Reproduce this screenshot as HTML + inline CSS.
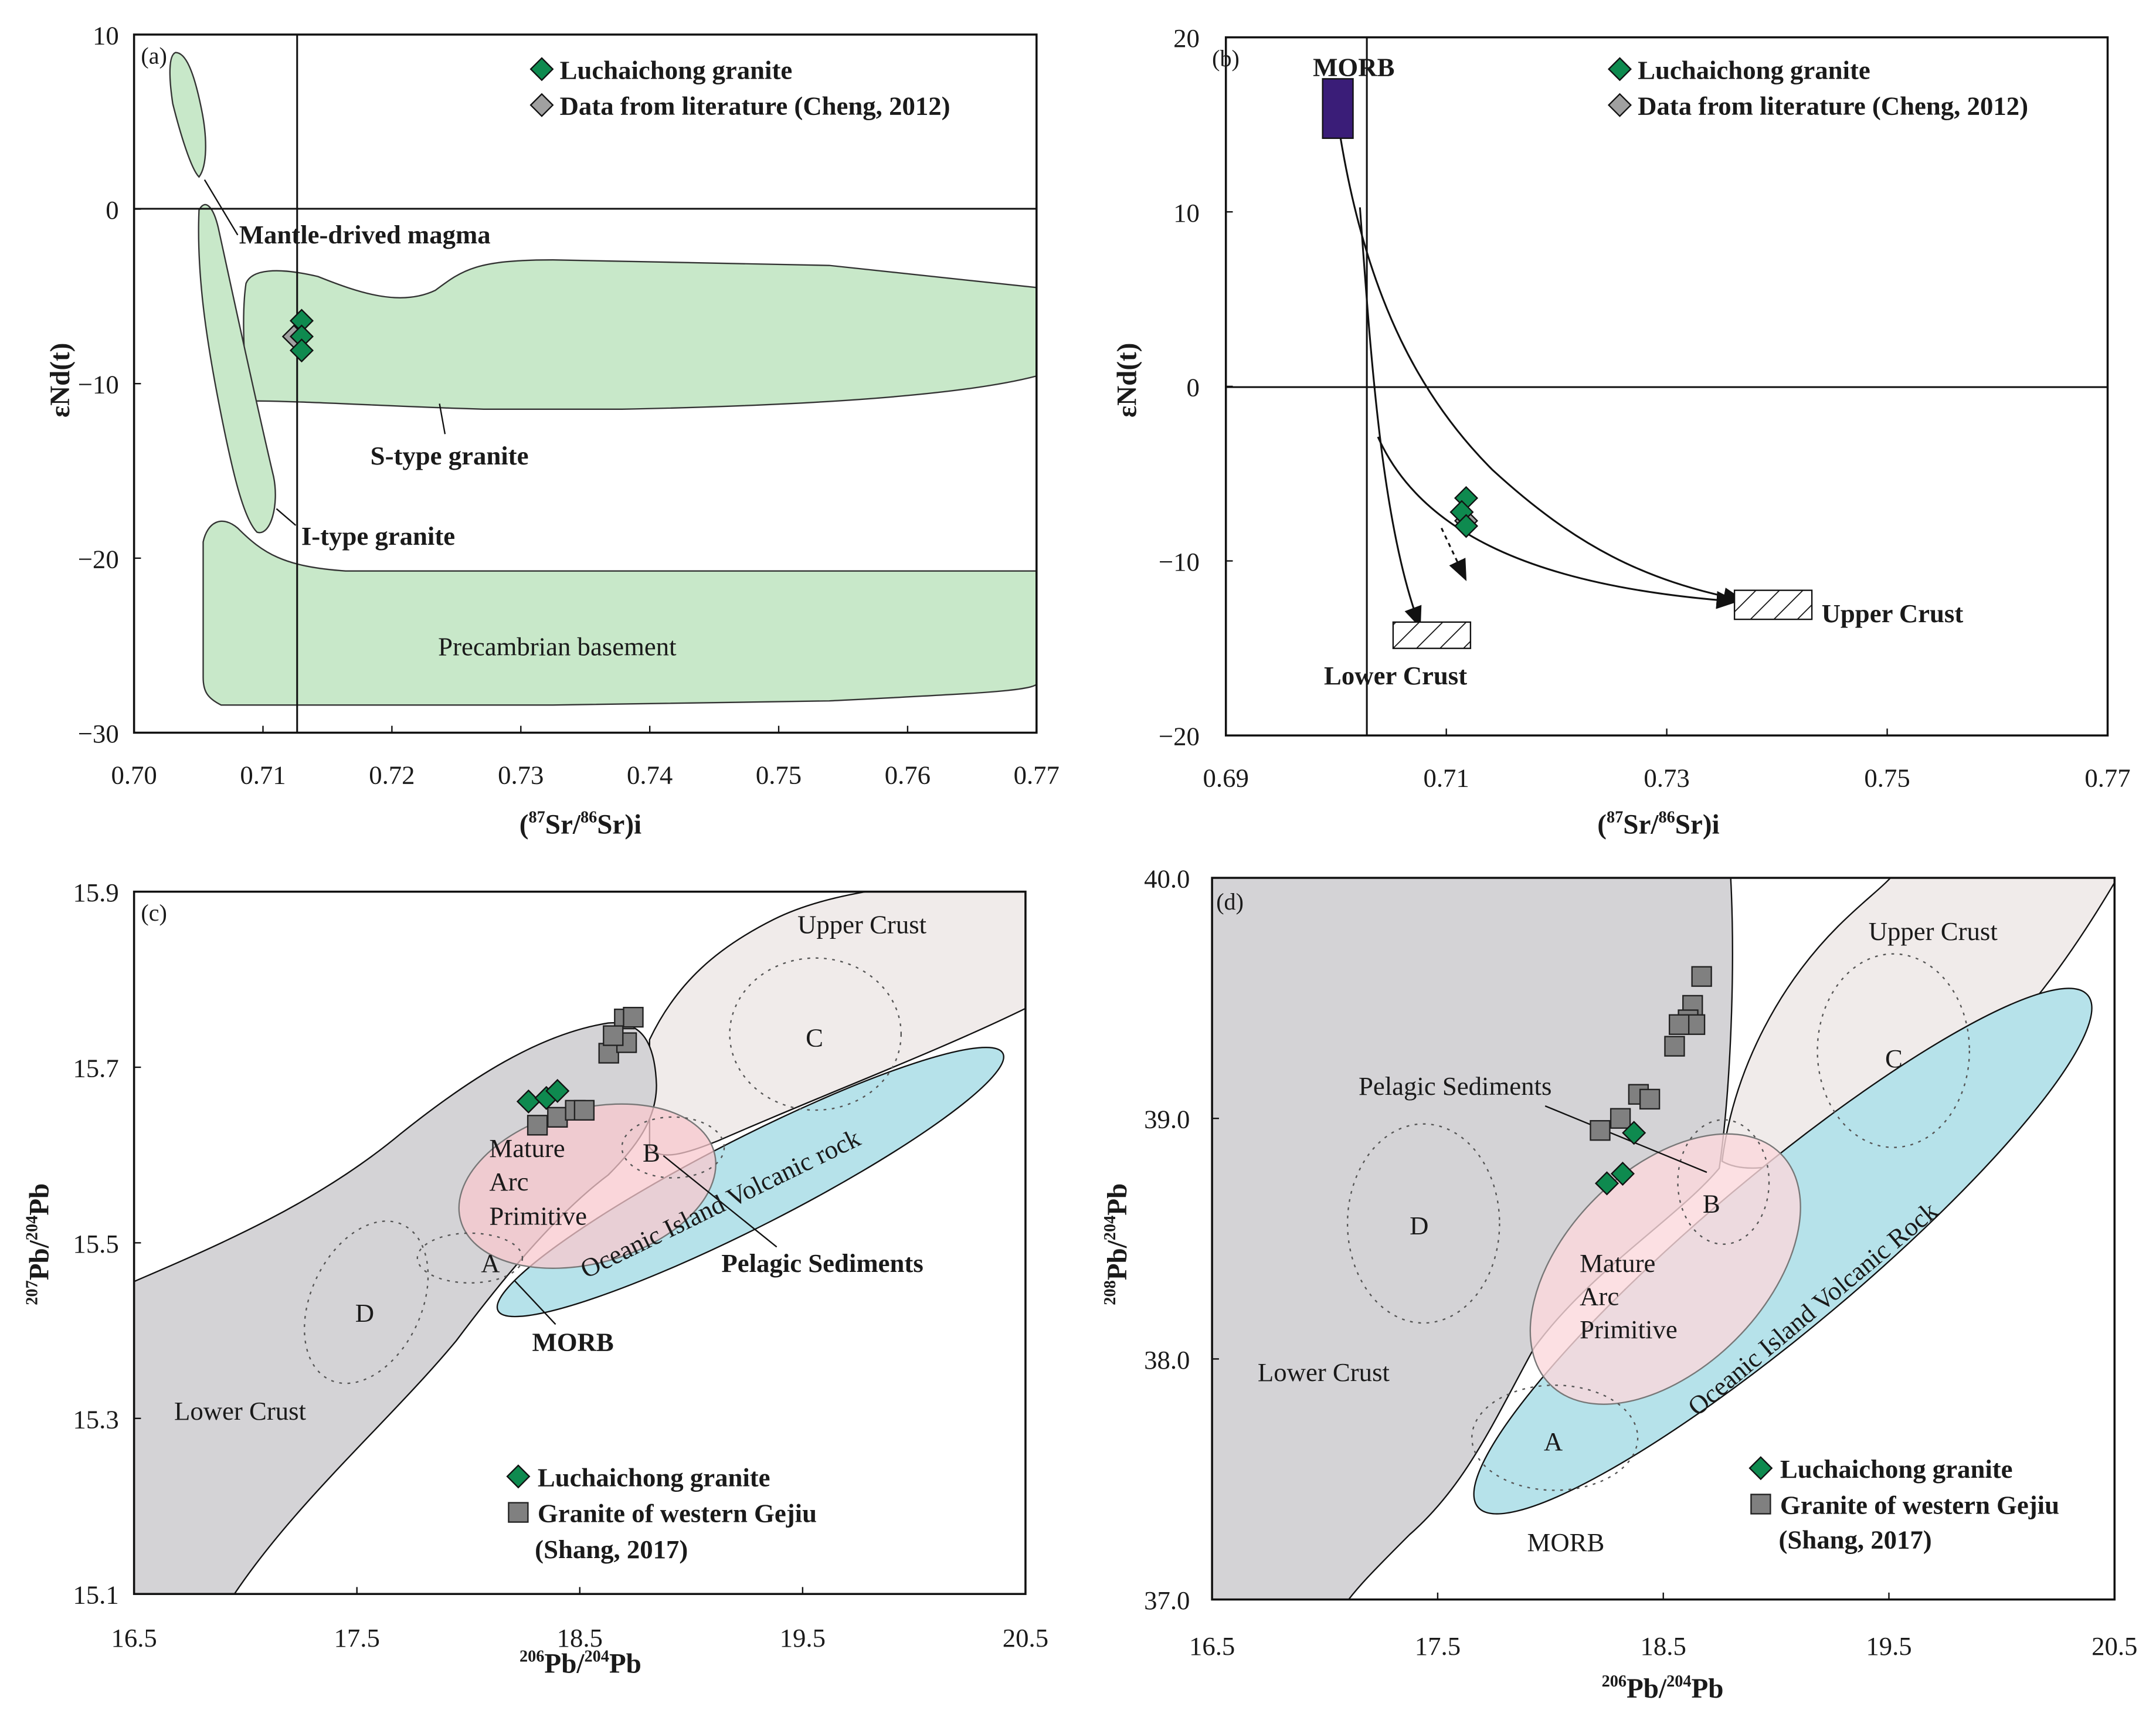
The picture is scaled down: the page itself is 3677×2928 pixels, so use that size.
<!DOCTYPE html>
<html><head><meta charset="utf-8"><style>
html,body{margin:0;padding:0;background:#fff}
svg{display:block;font-family:"Liberation Serif","DejaVu Serif",serif}
svg text{font-family:"Liberation Serif","DejaVu Serif",serif;fill:#1a1a1a}
</style></head><body>
<svg id="fig" xmlns="http://www.w3.org/2000/svg" width="3677" height="2928" viewBox="0 0 1560 1242" preserveAspectRatio="none" font-family="Liberation Serif, serif">
<g id="pa">
 <path d="M127,38 C134,38 140,50 146,80 C150,100 150,120 144,128 C138,122 130,95 125,75 C122,55 122,40 127,38Z" fill="#c8e8c9" stroke="#333" stroke-width="1"/>
 <path d="M178,205 C182,195 200,193 230,200 C260,212 290,222 315,210 C335,195 345,188 400,188 L600,192 L750,208 L750,272 C700,285 600,293 450,296 L350,296 C280,294 220,290 180,290 C176,260 175,225 178,205Z" fill="#c8e8c9" stroke="#333" stroke-width="1"/>
 <path d="M144,152 C148,144 154,148 158,165 C170,220 185,290 198,345 C202,365 196,388 186,385 C176,375 168,340 160,300 C150,250 142,200 144,152Z" fill="#c8e8c9" stroke="#333" stroke-width="1"/>
 <path d="M147,392 C150,378 160,372 172,382 C190,400 205,410 250,413 L750,413 L750,495 C745,500 700,502 600,507 L400,510 L160,510 C150,505 147,500 147,490Z" fill="#c8e8c9" stroke="#333" stroke-width="1"/>
 <rect x="97" y="25" width="653" height="505" fill="none" stroke="#111" stroke-width="1.5"/>
 <line x1="97" y1="151" x2="750" y2="151" stroke="#111" stroke-width="1.3"/>
 <line x1="215" y1="25" x2="215" y2="530" stroke="#111" stroke-width="1.3"/>
 <line x1="172" y1="170" x2="148" y2="130" stroke="#111"/>
 <line x1="318" y1="292" x2="322" y2="314" stroke="#111"/>
 <line x1="200" y1="368" x2="214" y2="380" stroke="#111"/>
 <text x="102" y="46" font-size="17">(a)</text>
 <text x="173" y="176" font-size="19" font-weight="bold">Mantle-drived magma</text>
 <text x="268" y="336" font-size="19" font-weight="bold">S-type granite</text>
 <text x="218" y="394" font-size="19" font-weight="bold">I-type granite</text>
 <text x="317" y="474" font-size="19">Precambrian basement</text>
 <g id="pa-pts"></g>
 <g>
  <path d="M392,42 L400,50 L392,58 L384,50Z" fill="#0e8a4f" stroke="#111"/>
  <text x="405" y="57" font-size="19" font-weight="bold">Luchaichong granite</text>
  <path d="M392,68 L400,76 L392,84 L384,76Z" fill="#a0a0a0" stroke="#111"/>
  <text x="405" y="83" font-size="19" font-weight="bold">Data from literature (Cheng, 2012)</text>
 </g>
 <g id="pa-ax"></g>
 <text x="420" y="603" font-size="20" font-weight="bold" text-anchor="middle">(<tspan font-size="12" dy="-8">87</tspan><tspan dy="8">Sr/</tspan><tspan font-size="12" dy="-8">86</tspan><tspan dy="8">Sr)i</tspan></text>
 <text transform="translate(50,275) rotate(-90)" font-size="20" font-weight="bold" text-anchor="middle">εNd(t)</text>
</g>

<g id="pb">
 <rect x="887" y="27" width="638" height="505" fill="none" stroke="#111" stroke-width="1.5"/>
 <line x1="887" y1="280" x2="1525" y2="280" stroke="#111" stroke-width="1.3"/>
 <line x1="989" y1="27" x2="989" y2="532" stroke="#111" stroke-width="1.3"/>
 <defs><marker id="arr" markerWidth="12" markerHeight="10" refX="10" refY="5" orient="auto"><path d="M0,0 L12,5 L0,10Z" fill="#111"/></marker></defs>
 <path d="M970,100 C990,220 1030,290 1080,340 C1140,395 1190,420 1260,434" fill="none" stroke="#111" stroke-width="1.3" marker-end="url(#arr)"/>
 <path d="M984,150 C992,260 1000,380 1027,452" fill="none" stroke="#111" stroke-width="1.3" marker-end="url(#arr)"/>
 <path d="M997,316 C1030,390 1120,425 1255,435" fill="none" stroke="#111" stroke-width="1.3" marker-end="url(#arr)"/>
 <path d="M1043,382 L1060,418" fill="none" stroke="#111" stroke-width="1.3" stroke-dasharray="3,3" marker-end="url(#arr)"/>
 <defs><pattern id="hatch" width="12" height="12" patternUnits="userSpaceOnUse" patternTransform="rotate(45)"><rect width="12" height="12" fill="#fff"/><line x1="0" y1="0" x2="0" y2="12" stroke="#111" stroke-width="1.5"/></pattern></defs>
 <rect x="1008" y="450" width="56" height="19" fill="url(#hatch)" stroke="#111"/>
 <rect x="1255" y="427" width="56" height="21" fill="url(#hatch)" stroke="#111"/>
 <rect x="957" y="57" width="22" height="43" fill="#3a1d78" stroke="#111"/>
 <text x="950" y="55" font-size="19" font-weight="bold">MORB</text>
 <text x="1318" y="450" font-size="19" font-weight="bold">Upper Crust</text>
 <text x="958" y="495" font-size="19" font-weight="bold">Lower Crust</text>
 <text x="877" y="48" font-size="17">(b)</text>
 <g id="pb-pts"></g>
 <g>
  <path d="M1172,42 L1180,50 L1172,58 L1164,50Z" fill="#0e8a4f" stroke="#111"/>
  <text x="1185" y="57" font-size="19" font-weight="bold">Luchaichong granite</text>
  <path d="M1172,68 L1180,76 L1172,84 L1164,76Z" fill="#a0a0a0" stroke="#111"/>
  <text x="1185" y="83" font-size="19" font-weight="bold">Data from literature (Cheng, 2012)</text>
 </g>
 <g id="pb-ax"></g>
 <text x="1200" y="603" font-size="20" font-weight="bold" text-anchor="middle">(<tspan font-size="12" dy="-8">87</tspan><tspan dy="8">Sr/</tspan><tspan font-size="12" dy="-8">86</tspan><tspan dy="8">Sr)i</tspan></text>
 <text transform="translate(822,275) rotate(-90)" font-size="20" font-weight="bold" text-anchor="middle">εNd(t)</text>
</g>

<g id="pc">
 <defs><clipPath id="clipc"><rect x="97" y="645" width="645" height="508"/></clipPath><clipPath id="clipd"><rect x="877" y="635" width="653" height="522"/></clipPath></defs>
 <g clip-path="url(#clipc)">
  <path d="M470,752 C490,710 520,685 560,665 C610,640 680,640 745,630 L745,728 C680,760 600,790 520,825 C495,835 478,840 470,830Z" fill="#f0ebea" stroke="#111" stroke-width="1"/>
  <path d="M90,930 C160,900 230,870 290,820 C340,780 390,748 440,740 C465,738 474,755 475,785 C475,810 460,830 440,850 C400,880 360,930 330,970 C280,1030 210,1090 165,1160 L90,1160Z" fill="#d4d3d6" stroke="#111" stroke-width="1"/>
  <ellipse cx="543" cy="855" rx="205" ry="32" transform="rotate(-27 543 855)" fill="#b6e2ea" stroke="#111" stroke-width="1"/>
  <ellipse cx="425" cy="858" rx="95" ry="56" transform="rotate(-15 425 858)" fill="#f8c8cd" fill-opacity="0.75" stroke="#777" stroke-width="1"/>
  <ellipse cx="590" cy="748" rx="62" ry="55" fill="none" stroke="#555" stroke-dasharray="2,4"/>
  <ellipse cx="487" cy="830" rx="37" ry="22" fill="none" stroke="#555" stroke-dasharray="2,4"/>
  <ellipse cx="340" cy="910" rx="38" ry="18" fill="none" stroke="#555" stroke-dasharray="2,4"/>
  <ellipse cx="265" cy="942" rx="40" ry="62" transform="rotate(25 265 942)" fill="none" stroke="#555" stroke-dasharray="2,4"/>
 </g>
 <rect x="97" y="645" width="645" height="508" fill="none" stroke="#111" stroke-width="1.5"/>
 <line x1="480" y1="836" x2="562" y2="902" stroke="#111"/>
 <line x1="372" y1="926" x2="402" y2="958" stroke="#111"/>
 <text x="102" y="666" font-size="17">(c)</text>
 <text x="577" y="675" font-size="19">Upper Crust</text>
 <text x="583" y="757" font-size="19">C</text>
 <text x="465" y="840" font-size="19">B</text>
 <text x="348" y="920" font-size="19">A</text>
 <text x="257" y="956" font-size="19">D</text>
 <text font-size="19"><tspan x="354" y="837">Mature</tspan><tspan x="354" y="861">Arc</tspan><tspan x="354" y="886">Primitive</tspan></text>
 <text transform="translate(424,925) rotate(-26)" font-size="19">Oceanic Island Volcanic rock</text>
 <text x="522" y="920" font-size="19" font-weight="bold">Pelagic Sediments</text>
 <text x="385" y="977" font-size="19" font-weight="bold">MORB</text>
 <text x="126" y="1027" font-size="19">Lower Crust</text>
 <g id="pc-pts"></g>
 <g>
  <path d="M375,1060 L383,1068 L375,1076 L367,1068Z" fill="#0e8a4f" stroke="#111"/>
  <text x="389" y="1075" font-size="19" font-weight="bold">Luchaichong granite</text>
  <rect x="368" y="1087" width="14" height="14" fill="#808080" stroke="#222"/>
  <text x="389" y="1101" font-size="19" font-weight="bold">Granite of western Gejiu</text>
  <text x="387" y="1127" font-size="19" font-weight="bold">(Shang, 2017)</text>
 </g>
 <g id="pc-ax"></g>
 <text x="420" y="1210" font-size="20" font-weight="bold" text-anchor="middle"><tspan font-size="12" dy="-8">206</tspan><tspan dy="8">Pb/</tspan><tspan font-size="12" dy="-8">204</tspan><tspan dy="8">Pb</tspan></text>
 <text transform="translate(35,900) rotate(-90)" font-size="20" font-weight="bold" text-anchor="middle"><tspan font-size="12" dy="-8">207</tspan><tspan dy="8">Pb/</tspan><tspan font-size="12" dy="-8">204</tspan><tspan dy="8">Pb</tspan></text>
</g>

<g id="pd">
 <g clip-path="url(#clipd)">
  <path d="M870,630 L1252,630 C1256,700 1252,790 1244,845 C1215,880 1150,920 1110,975 C1080,1030 1060,1075 1020,1110 C995,1135 980,1150 970,1165 L870,1165Z" fill="#d4d3d6" stroke="#111" stroke-width="1"/>
  <path d="M1246,840 C1255,770 1290,710 1330,670 C1350,650 1365,640 1372,630 L1535,630 C1500,690 1470,730 1430,770 C1390,810 1340,830 1300,840 C1280,845 1260,848 1246,840Z" fill="#f0ebea" stroke="#111" stroke-width="1"/>
  <ellipse cx="1290" cy="905" rx="288" ry="56" transform="rotate(-40 1290 905)" fill="#b6e2ea" stroke="#111" stroke-width="1"/>
  <ellipse cx="1205" cy="918" rx="118" ry="72" transform="rotate(-45 1205 918)" fill="#fbd8dc" fill-opacity="0.8" stroke="#777" stroke-width="1"/>
  <ellipse cx="1370" cy="760" rx="55" ry="70" fill="none" stroke="#555" stroke-dasharray="2,4"/>
  <ellipse cx="1247" cy="855" rx="33" ry="45" fill="none" stroke="#555" stroke-dasharray="2,4"/>
  <ellipse cx="1030" cy="885" rx="55" ry="72" fill="none" stroke="#555" stroke-dasharray="2,4"/>
  <ellipse cx="1125" cy="1040" rx="60" ry="38" fill="none" stroke="#555" stroke-dasharray="2,4"/>
 </g>
 <rect x="877" y="635" width="653" height="522" fill="none" stroke="#111" stroke-width="1.5"/>
 <line x1="1118" y1="800" x2="1235" y2="848" stroke="#111"/>
 <text x="880" y="658" font-size="17">(d)</text>
 <text x="1352" y="680" font-size="19">Upper Crust</text>
 <text x="1364" y="772" font-size="19">C</text>
 <text x="1232" y="877" font-size="19">B</text>
 <text x="1020" y="893" font-size="19">D</text>
 <text x="1117" y="1049" font-size="19">A</text>
 <text x="983" y="792" font-size="19">Pelagic Sediments</text>
 <text font-size="19"><tspan x="1143" y="920">Mature</tspan><tspan x="1143" y="944">Arc</tspan><tspan x="1143" y="968">Primitive</tspan></text>
 <text transform="translate(1228,1025) rotate(-40)" font-size="19">Oceanic Island Volcanic Rock</text>
 <text x="910" y="999" font-size="19">Lower Crust</text>
 <text x="1105" y="1122" font-size="19">MORB</text>
 <g id="pd-pts"></g>
 <g>
  <path d="M1274,1054 L1282,1062 L1274,1070 L1266,1062Z" fill="#0e8a4f" stroke="#111"/>
  <text x="1288" y="1069" font-size="19" font-weight="bold">Luchaichong granite</text>
  <rect x="1267" y="1081" width="14" height="14" fill="#808080" stroke="#222"/>
  <text x="1288" y="1095" font-size="19" font-weight="bold">Granite of western Gejiu</text>
  <text x="1287" y="1120" font-size="19" font-weight="bold">(Shang, 2017)</text>
 </g>
 <g id="pd-ax"></g>
 <text x="1203" y="1228" font-size="20" font-weight="bold" text-anchor="middle"><tspan font-size="12" dy="-8">206</tspan><tspan dy="8">Pb/</tspan><tspan font-size="12" dy="-8">204</tspan><tspan dy="8">Pb</tspan></text>
 <text transform="translate(815,900) rotate(-90)" font-size="20" font-weight="bold" text-anchor="middle"><tspan font-size="12" dy="-8">208</tspan><tspan dy="8">Pb/</tspan><tspan font-size="12" dy="-8">204</tspan><tspan dy="8">Pb</tspan></text>
</g>
</svg>
<script>
// Panel (a) data
const aLuchX = [0.7130, 0.7130, 0.7130];
const aLuchY = [-6.4, -7.3, -8.1];
const aLitX = [0.7124];
const aLitY = [-7.3];
const aXTicks = [0.70, 0.71, 0.72, 0.73, 0.74, 0.75, 0.76, 0.77];
const aYTicks = [10, 0, -10, -20, -30];
// Panel (b) data
const bLuchX = [0.7118, 0.7114, 0.7118];
const bLuchY = [-6.4, -7.2, -8.0];
const bLitX = [0.7118];
const bLitY = [-7.7];
const bXTicks = [0.69, 0.71, 0.73, 0.75, 0.77];
const bYTicks = [20, 10, 0, -10, -20];
// Panel (c) data
const cLuchX = [18.27, 18.35, 18.40];
const cLuchY = [15.661, 15.665, 15.673];
const cGejiuX = [18.31, 18.40, 18.48, 18.52, 18.63, 18.71, 18.70, 18.74, 18.65];
const cGejiuY = [15.634, 15.643, 15.651, 15.651, 15.716, 15.728, 15.755, 15.757, 15.736];
const cXTicks = [16.5, 17.5, 18.5, 19.5, 20.5];
const cYTicks = [15.9, 15.7, 15.5, 15.3, 15.1];
// Panel (d) data
const dLuchX = [18.37, 18.32, 18.25];
const dLuchY = [38.94, 38.77, 38.73];
const dGejiuX = [18.67, 18.63, 18.61, 18.64, 18.57, 18.55, 18.39, 18.44, 18.31, 18.22];
const dGejiuY = [39.59, 39.47, 39.41, 39.39, 39.39, 39.30, 39.10, 39.08, 39.00, 38.95];
const dXTicks = [16.5, 17.5, 18.5, 19.5, 20.5];
const dYTicks = [40.0, 39.0, 38.0, 37.0];

const NS = 'http://www.w3.org/2000/svg';
function lin(d0, d1, r0, r1) { return v => r0 + (v - d0) / (d1 - d0) * (r1 - r0); }
const ax = { x: lin(0.70, 0.77, 97, 750), y: lin(10, -30, 25, 530) };
const bx = { x: lin(0.69, 0.77, 887, 1525), y: lin(20, -20, 27, 532) };
const cx = { x: lin(16.5, 20.5, 97, 742), y: lin(15.9, 15.1, 645, 1153) };
const dx = { x: lin(16.5, 20.5, 877, 1530), y: lin(40, 37, 635, 1157) };

function diamond(g, x, y, fill) {
  const p = document.createElementNS(NS, 'path');
  p.setAttribute('d', `M${x},${y-8} L${x+8},${y} L${x},${y+8} L${x-8},${y}Z`);
  p.setAttribute('fill', fill); p.setAttribute('stroke', '#111');
  
  
  g.appendChild(p);
}
function square(g, x, y) {
  const r = document.createElementNS(NS, 'rect');
  r.setAttribute('x', x - 7); r.setAttribute('y', y - 7);
  r.setAttribute('width', 14); r.setAttribute('height', 14);
  r.setAttribute('fill', '#808080'); r.setAttribute('stroke', '#222');
  
  
  g.appendChild(r);
}
function txt(g, x, y, s, anchor) {
  const t = document.createElementNS(NS, 'text');
  t.setAttribute('x', x); t.setAttribute('y', y);
  t.setAttribute('font-size', '19'); t.setAttribute('text-anchor', anchor);
  t.setAttribute('font-family', 'Liberation Serif, serif');
  t.textContent = s;
  
  
  g.appendChild(t);
}
function axes(id, s, xt, yt, dec, xLabY, yLabX, xLeftBase, yBottom) {
  const g = document.getElementById(id);
  xt.forEach(v => {
    const px = s.x(v);
    txt(g, px, xLabY, v.toFixed(dec[0]), 'middle');
    const l = document.createElementNS(NS, 'line');
    l.setAttribute('x1', px); l.setAttribute('x2', px);
    l.setAttribute('y1', yBottom); l.setAttribute('y2', yBottom - 5);
    l.setAttribute('stroke', '#111');
    
    
    g.appendChild(l);
  });
  yt.forEach(v => {
    const py = s.y(v);
    txt(g, yLabX, py + 7, dec[1] === 0 ? (v < 0 ? '\u2212' + Math.abs(v) : String(v)) : v.toFixed(dec[1]), 'end');
    const l = document.createElementNS(NS, 'line');
    l.setAttribute('x1', xLeftBase); l.setAttribute('x2', xLeftBase + 5);
    l.setAttribute('y1', py); l.setAttribute('y2', py);
    l.setAttribute('stroke', '#111');
    
    
    g.appendChild(l);
  });
}
axes('pa-ax', ax, aXTicks, aYTicks, [2, 0], 567, 86, 97, 530);
axes('pb-ax', bx, bXTicks, bYTicks, [2, 0], 569, 868, 887, 532);
axes('pc-ax', cx, cXTicks, cYTicks, [1, 1], 1191, 86, 97, 1153);
axes('pd-ax', dx, dXTicks, dYTicks, [1, 1], 1197, 861, 877, 1157);

const ga = document.getElementById('pa-pts');
aLitX.forEach((v, i) => diamond(ga, ax.x(v), ax.y(aLitY[i]), '#a0a0a0'));
aLuchX.forEach((v, i) => diamond(ga, ax.x(v), ax.y(aLuchY[i]), '#0e8a4f'));
const gb = document.getElementById('pb-pts');
bLitX.forEach((v, i) => diamond(gb, bx.x(v), bx.y(bLitY[i]), '#a0a0a0'));
bLuchX.forEach((v, i) => diamond(gb, bx.x(v), bx.y(bLuchY[i]), '#0e8a4f'));
const gc = document.getElementById('pc-pts');
cGejiuX.forEach((v, i) => square(gc, cx.x(v), cx.y(cGejiuY[i])));
cLuchX.forEach((v, i) => diamond(gc, cx.x(v), cx.y(cLuchY[i]), '#0e8a4f'));
const gd = document.getElementById('pd-pts');
dGejiuX.forEach((v, i) => square(gd, dx.x(v), dx.y(dGejiuY[i])));
dLuchX.forEach((v, i) => diamond(gd, dx.x(v), dx.y(dLuchY[i]), '#0e8a4f'));
</script>
</body></html>
